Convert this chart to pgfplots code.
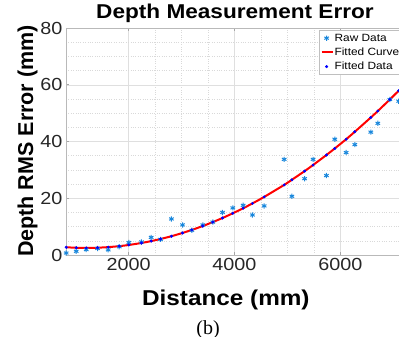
\documentclass[border=0pt]{standalone}
\usepackage{fontspec}
\setmainfont{Liberation Sans}[FakeStretch=1.13]
\newfontfamily\ylabfont{Liberation Sans}
\newfontfamily\capfont{Liberation Serif}
\usepackage{pgfplots}
\usepackage{pgfplotstable}
\pgfplotsset{compat=1.18}
\definecolor{rawblue}{RGB}{25,135,220}
\pgfplotsset{
  marklegend/.style={legend image code/.code={\draw[mark repeat=2,mark phase=2,##1] plot coordinates {(0bp,0bp)(5bp,0bp)(11bp,0bp)};}},
  linelegend/.style={legend image code/.code={\draw[##1] (0bp,0bp) -- (11bp,0bp);}},
}

\pgfplotstableread{
x y
824 0.7
1013 1.3
1202 1.9
1415 2.3
1617 1.8
1825 2.9
2006 4.4
2245 4.6
2428 6.2
2604 5.5
2811 12.7
3019 10.6
3195 8.7
3402 10.6
3591 11.6
3774 15.0
3968 16.6
4164 17.5
4340 14.1
4561 17.3
4938 33.7
5084 20.7
5324 26.9
5484 33.7
5736 28.0
5893 40.8
6108 36.1
6271 38.9
6573 43.3
6705 46.4
6932 54.8
7100 54.2
}\rawdata

\pgfplotstableread{
x y
824 2.72
1013 2.56
1202 2.50
1415 2.57
1617 2.78
1825 3.12
2006 3.53
2245 4.24
2428 4.90
2604 5.64
2811 6.63
3019 7.77
3195 8.83
3402 10.22
3591 11.60
3774 13.04
3968 14.70
4164 16.48
4340 18.19
4561 20.48
4938 24.70
5084 26.51
5324 29.57
5484 31.71
5736 35.25
5893 37.55
6108 40.80
6271 43.43
6573 48.45
6705 50.73
6932 54.79
7100 57.90
}\fitdata

\begin{document}
\begin{tikzpicture}
\begin{axis}[
  at={(66bp,82bp)}, anchor=south west,
  scale only axis, width=338bp, height=227bp,
  xmin=820, xmax=7200, ymin=0, ymax=80,
  xtick={2000,4000,6000}, ytick={0,20,40,60,80},
  minor x tick num=3, minor y tick num=3,
  grid=both,
  major grid style={gray!25, line width=0.5bp},
  minor grid style={gray!30, dotted, line width=0.4bp},
  axis line style={gray!55, line width=0.6bp},
  tick style={gray!70, line width=0.6bp},
  major tick length=3bp, minor tick length=0pt,
  scaled x ticks=false, scaled y ticks=false,
  /pgf/number format/assume math mode=true,
  /pgf/number format/set thousands separator={},
  ticklabel style={font=\fontsize{17.5bp}{20bp}\selectfont, text=black!85},
  title={\bfseries Depth Measurement Error},
  title style={font=\fontsize{20bp}{22bp}\selectfont, at={(axis description cs:0.5,1.0427)}, anchor=base, yshift=-6pt},
  xlabel={\bfseries Distance (mm)},
  xlabel style={font=\fontsize{21.5bp}{23bp}\selectfont, at={(axis description cs:0.473,-0.2203)}, anchor=base},
  ylabel={\bfseries Depth RMS Error (mm)},
  ylabel style={font=\ylabfont\fontsize{21.5bp}{23bp}\selectfont, at={(axis description cs:-0.0976,0.502)}, anchor=base},
  legend style={at={(axis description cs:0.994,0.991)}, anchor=north east,
    font=\fontsize{10.5bp}{12bp}\selectfont, draw=gray!50, line width=0.5bp,
    inner xsep=1.5bp, inner ysep=2.5bp, row sep=3.2bp, nodes={inner sep=1bp}, cells={anchor=west}},
  legend cell align=left,
]
\addplot[only marks, mark=asterisk, mark size=2.6bp, rawblue, line width=1bp, marklegend]
  table[x=x,y=y] {\rawdata};
\addlegendentry{Raw Data}
\addplot[red, line width=2bp, smooth, no marks, linelegend]
  table[x=x,y=y] {\fitdata};
\addlegendentry{Fitted Curve}
\addplot[only marks, mark=*, mark size=1.3bp, blue, marklegend]
  table[x=x,y=y] {\fitdata};
\addlegendentry{Fitted Data}
\end{axis}
\node[font=\capfont\fontsize{20bp}{22bp}\selectfont, anchor=base] at (208bp,3bp) {(b)};
\pgfresetboundingbox
\path[use as bounding box] (0,0) rectangle (399bp,337bp);
\end{tikzpicture}
\end{document}
